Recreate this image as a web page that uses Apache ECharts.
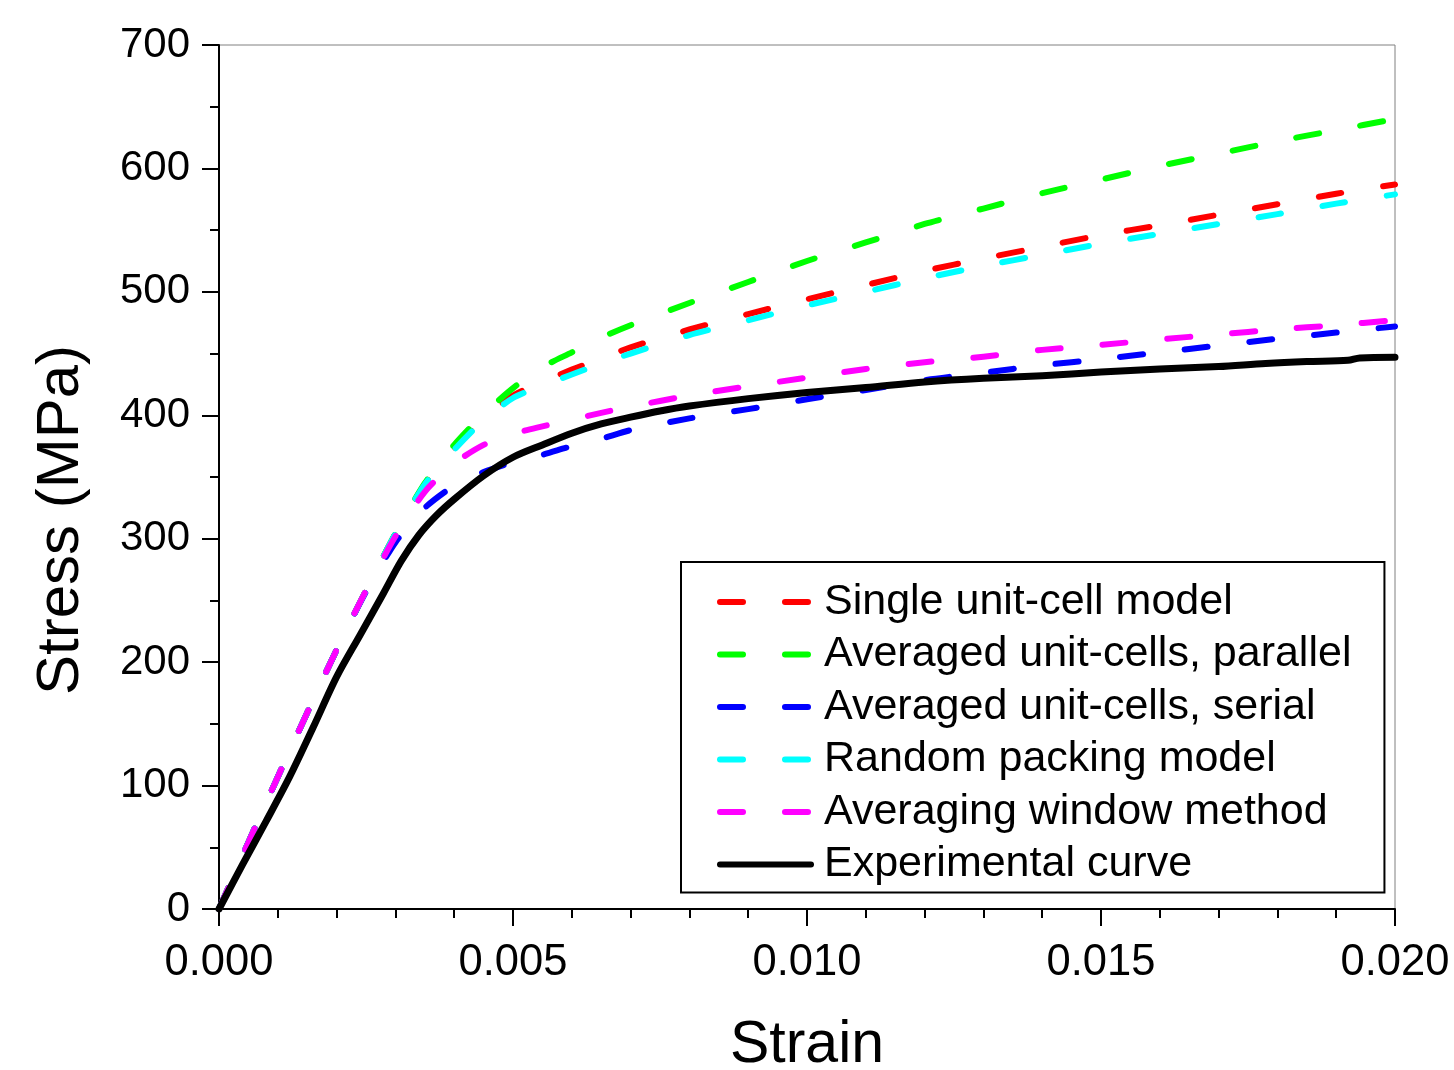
<!DOCTYPE html>
<html>
<head>
<meta charset="utf-8">
<script src="https://cdn.jsdelivr.net/npm/echarts@6/dist/echarts.min.js"></script>
<style>
html,body{margin:0;padding:0;background:#fff;overflow:hidden;}
#c{width:1454px;height:1070px;}
</style>
</head>
<body>
<div id="c"></div>
<script>
// ---- data ----
const seriesNames = [
  'Single unit-cell model',
  'Averaged unit-cells, parallel',
  'Averaged unit-cells, serial',
  'Random packing model',
  'Averaging window method',
  'Experimental curve'
];
const strainModel = [0, 0.0005, 0.001, 0.0015, 0.002, 0.0025, 0.003, 0.0035, 0.004, 0.0045, 0.005, 0.0055, 0.006, 0.0065, 0.007, 0.008, 0.009, 0.010, 0.011, 0.012, 0.013, 0.014, 0.015, 0.016, 0.017, 0.018, 0.019, 0.020];
const stressSingle   = [0, 54, 107, 159, 210, 258, 304, 344, 373, 397, 416, 427, 437, 446, 455, 469.5, 482, 494, 505.5, 517, 527, 536.5, 546, 554, 562.5, 571, 579.5, 587];
const stressParallel = [0, 54, 107, 159, 210, 258, 304, 345, 376, 401, 422, 439, 451, 463, 473, 491, 508, 525, 540, 555, 567.5, 580, 591, 602, 612, 622, 631, 640];
const stressSerial   = [0, 54, 107, 159, 210, 257, 297, 325, 343, 354, 362, 368, 375, 381, 388, 397.5, 405, 413, 420.5, 428.5, 434.5, 440.5, 445.5, 451, 456.5, 462, 467, 472];
const stressRandom   = [0, 54, 107, 159, 210, 258, 304, 344, 372, 396, 414, 424, 433, 442, 450, 465, 477, 489, 500, 511, 521, 530, 539, 547, 555, 563, 571.5, 579];
const stressWindow   = [0, 54, 107, 159, 210, 258, 302, 338, 361, 376, 385, 391, 396.5, 402, 407, 416, 423.5, 430.5, 437.5, 443, 447.5, 453, 457, 461.5, 465.5, 469.5, 473, 477];
const strainExp = [0, 0.0004, 0.0008, 0.0012, 0.0016, 0.002, 0.0024, 0.0028, 0.0031, 0.0034, 0.0037, 0.004, 0.0045, 0.005, 0.0055, 0.006, 0.0065, 0.007, 0.0075, 0.008, 0.009, 0.010, 0.011, 0.012, 0.013, 0.014, 0.015, 0.016, 0.017, 0.0178, 0.0185, 0.0192, 0.0194, 0.020];
const stressExp = [0, 36, 71, 107, 147, 188, 222, 256, 282, 303, 319, 332, 351, 366, 376, 385.5, 393, 398.5, 403.5, 407.5, 413.5, 418.5, 422.5, 427, 430, 432, 435, 437.5, 439.5, 442, 443.5, 444.5, 446.5, 447];
const xTicks = [0, 0.005, 0.010, 0.015, 0.020];
const yTicks = [0, 100, 200, 300, 400, 500, 600, 700];

// ---- chart ----
const colors = ['#ff0000', '#00ff00', '#0000ff', '#00ffff', '#ff00ff', '#000000'];
const zip = (xs, ys) => xs.map((x, i) => [x, ys[i]]);
const modelData = [stressSingle, stressParallel, stressSerial, stressRandom, stressWindow];
const FONT = '"Liberation Sans", Arial, Helvetica, sans-serif';

const series = modelData.map((ys, i) => ({
  name: seriesNames[i],
  type: 'line',
  data: zip(strainModel, ys),
  showSymbol: false,
  symbol: 'none',
  smooth: 0.25,
  lineStyle: { color: colors[i], width: 6, type: [23, 42], cap: 'round', join: 'round' },
  itemStyle: { color: colors[i] },
  animation: false
}));
series.push({
  name: seriesNames[5],
  type: 'line',
  data: zip(strainExp, stressExp),
  showSymbol: false,
  symbol: 'none',
  smooth: 0.3,
  lineStyle: { color: '#000', width: 7, type: 'solid', cap: 'round', join: 'round' },
  itemStyle: { color: '#000' },
  animation: false
});

const chart = echarts.init(document.getElementById('c'), null, { renderer: 'canvas' });
chart.setOption({
  backgroundColor: '#fff',
  animation: false,
  textStyle: { fontFamily: FONT, color: '#000' },
  grid: {
    left: 219, right: 59, top: 45, bottom: 161,
    containLabel: false,
    outerBoundsMode: 'none',
    show: true, borderColor: '#808080', borderWidth: 1, backgroundColor: 'transparent'
  },
  legend: {
    orient: 'vertical',
    left: 681, top: 562,
    data: seriesNames,
    itemWidth: 91, itemHeight: 20, itemGap: 4.5,
    padding: [16, 33, 4, 36],
    borderColor: '#000', borderWidth: 2,
    backgroundColor: '#fff',
    itemStyle: { opacity: 0, borderWidth: 0 },
    lineStyle: { width: 6 },
    textStyle: { fontFamily: FONT, fontSize: 43, color: '#000', lineHeight: 48, padding: [0, 0, 0, 8] },
    selectedMode: false
  },
  xAxis: {
    type: 'value',
    min: xTicks[0], max: xTicks[xTicks.length - 1], interval: xTicks[1] - xTicks[0],
    name: 'Strain', nameLocation: 'middle', nameGap: 107,
    nameTextStyle: { fontFamily: FONT, fontSize: 59, color: '#000' },
    axisLine: { show: true, onZero: false, lineStyle: { color: '#000', width: 2 } },
    axisTick: { show: true, inside: false, length: 17, lineStyle: { color: '#000', width: 2 } },
    minorTick: { show: true, splitNumber: 5, length: 9, lineStyle: { color: '#000', width: 2 } },
    splitLine: { show: false },
    axisLabel: { fontFamily: FONT, fontSize: 43.5, color: '#000', margin: 32,
      formatter: v => v.toFixed(3) }
  },
  yAxis: {
    type: 'value',
    min: yTicks[0], max: yTicks[yTicks.length - 1], interval: yTicks[1] - yTicks[0],
    name: 'Stress (MPa)', nameLocation: 'middle', nameGap: 128,
    nameTextStyle: { fontFamily: FONT, fontSize: 60, color: '#000', padding: [0, 86, 0, 0] },
    axisLine: { show: true, onZero: false, lineStyle: { color: '#000', width: 2 } },
    axisTick: { show: true, inside: false, length: 17, lineStyle: { color: '#000', width: 2 } },
    minorTick: { show: true, splitNumber: 2, length: 9, lineStyle: { color: '#000', width: 2 } },
    splitLine: { show: false },
    axisLabel: { fontFamily: FONT, fontSize: 42, color: '#000', margin: 29, padding: [4, 0, 0, 0] }
  },
  series: series
});
</script>
</body>
</html>
